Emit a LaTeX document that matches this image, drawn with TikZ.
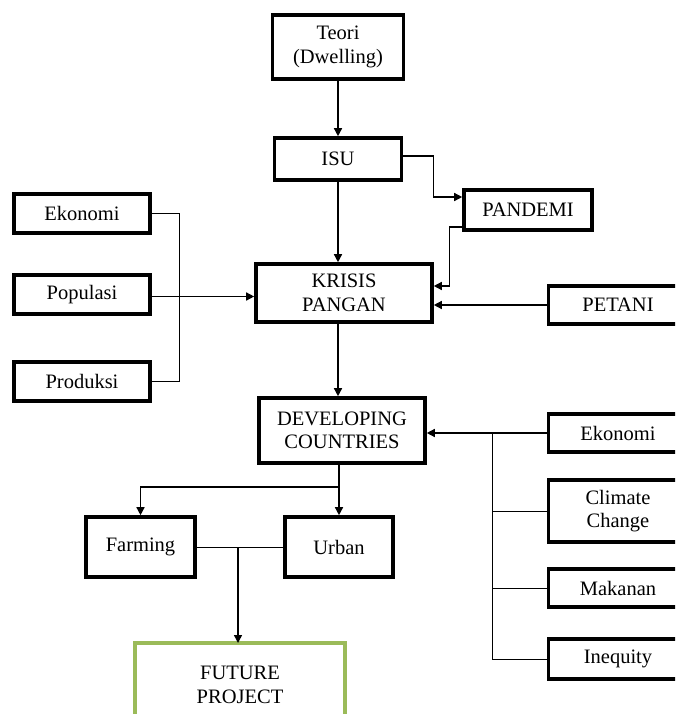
\documentclass[tikz,border=0pt]{standalone}
\usepackage{fontspec}
\setmainfont{Liberation Serif}
\usepackage{tikz}
\usetikzlibrary{positioning, arrows.meta}

\definecolor{leafgreen}{HTML}{9BBB59}

\begin{document}
\begin{tikzpicture}[x=1pt, y=-1pt,
    box/.style={draw, line width=3.6pt, align=center, inner sep=0pt,
      font=\fontsize{20.5}{23.5}\selectfont},
    greenbox/.style={box, draw=leafgreen, line width=3.2pt},
    arr/.style={line width=1.4pt, -{Triangle[length=8pt, width=8pt]}},
    link/.style={line width=1pt}]
		\useasboundingbox (0,0) rectangle (675,714);
		\clip (0,0) rectangle (675,714);
		
		\node[box, minimum width=131pt, minimum height=64pt] (teori) at (338,47) {Teori\\(Dwelling)};
		\node[box, minimum width=127pt, minimum height=42pt] (isu) at (338,159) {ISU};
		\node[box, minimum width=128pt, minimum height=40pt] (pandemi) at (528,210) {PANDEMI};
		\node[box, minimum width=176pt, minimum height=58pt] (krisis) at (344,293) {KRISIS\\PANGAN};
		\node[box, minimum width=139pt, minimum height=38pt] (petani) at (618,305) {PETANI};
		
		\node[box, minimum width=136pt, minimum height=39pt] (ekonomi) at (82,213.5) {Ekonomi};
		\node[box, minimum width=136pt, minimum height=39pt] (populasi) at (82,294.5) {Populasi};
		\node[box, minimum width=136pt, minimum height=39pt] (produksi) at (82,381.5) {Produksi};
		
		\node[box, minimum width=166pt, minimum height=65pt] (developing) at (342,430.5) {DEVELOPING\\COUNTRIES};
		\node[box, minimum width=139pt, minimum height=38pt] (ekonomi2) at (618,433) {Ekonomi};
		\node[box, minimum width=139pt, minimum height=62pt] (climate) at (618,511) {Climate\\Change};
		\node[box, minimum width=139pt, minimum height=38pt] (makanan) at (618,588) {Makanan};
		\node[box, minimum width=139pt, minimum height=40pt] (inequity) at (618,659) {Inequity};
		
		\node[box, minimum width=109pt, minimum height=60pt] (farming) at (140.5,547) {Farming};
		\node[box, minimum width=108pt, minimum height=60pt] (urban) at (339,547) {Urban};
		\node[greenbox, minimum width=210pt, minimum height=84pt] (future) at (240,685) {FUTURE\\PROJECT};
		
		% top of the chart
		\draw[arr] (teori) -- (isu);
		\draw[arr] (isu.south) -- (isu.south |- krisis.north);
		\draw[arr] ([yshift=3pt]isu.east) -- ++(30,0) |- ([yshift=13pt]pandemi.west);
		\draw[arr] ([yshift=-17pt]pandemi.west) -- ++(-13,0) |- ([yshift=7pt]krisis.east);
		\draw[arr] (petani.west) -- (petani.west -| krisis.east);
		
		% left group
		\draw[link] (ekonomi.east) -- ++(28,0) |- (produksi.east);
		\draw[arr] ([yshift=-2pt]populasi.east) -- ([yshift=-2pt]populasi.east -| krisis.west);
		
		% right group
		\coordinate (hub) at (492,433);
		\draw[arr] (ekonomi2.west) -- (ekonomi2.west -| developing.east);
		\draw[link] (hub) |- (inequity.west);
		\draw[link] (hub |- climate.west) -- (climate.west);
		\draw[link] (hub |- makanan.west) -- (makanan.west);
		
		% lower part
		\draw[arr] (isu.south |- krisis.south) -- (isu.south |- developing.north);
		\coordinate (split) at (338,487);
		\draw[arr] (urban.north |- developing.south) -- (urban.north);
		\draw[arr] (split) -| (farming.north);
		\draw[link] (farming.east) -- (urban.west);
		\draw[arr] (238,548) -- (238,643);
	\end{tikzpicture}
\end{document}
